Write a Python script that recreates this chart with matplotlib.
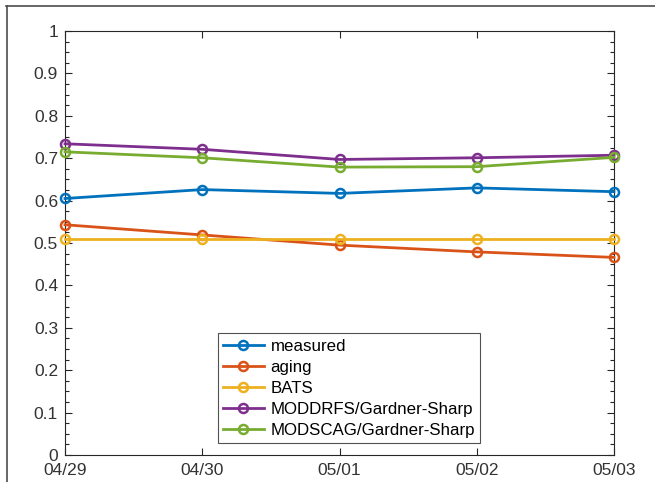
import matplotlib
matplotlib.use("Agg")
import matplotlib.pyplot as plt
from matplotlib.lines import Line2D
from matplotlib.ticker import MultipleLocator

plt.rcParams['font.family'] = ['Liberation Sans', 'DejaVu Sans']

dates = ['04/29', '04/30', '05/01', '05/02', '05/03']
measured = [0.605, 0.626, 0.617, 0.630, 0.621]
aging = [0.543, 0.519, 0.495, 0.479, 0.466]
bats = [0.510, 0.510, 0.510, 0.510, 0.510]
moddrfs = [0.734, 0.721, 0.697, 0.701, 0.707]
modscag = [0.715, 0.701, 0.679, 0.680, 0.702]

series = [
    ('measured', measured, (0, 0.447, 0.741)),
    ('aging', aging, (0.85, 0.325, 0.098)),
    ('BATS', bats, (0.929, 0.694, 0.125)),
    ('MODDRFS/Gardner-Sharp', moddrfs, (0.494, 0.184, 0.556)),
    ('MODSCAG/Gardner-Sharp', modscag, (0.466, 0.674, 0.188)),
]

fig = plt.figure(figsize=(6.55, 4.82), dpi=100)
top_px, bot_px = 31, 455
ax = fig.add_axes([65/655, 1-bot_px/482, (614-65)/655, (bot_px-top_px)/482])

x = list(range(len(dates)))
for name, vals, c in series:
    ax.plot(x, vals, '-o', color=c, lw=2, ms=6.5, mfc='none', mew=1.8,
            label=name, clip_on=False, zorder=3)

ax.set_xlim(0, 4)
ax.set_ylim(0, 1)
ax.set_xticks(x)
ax.set_xticklabels(dates)
ax.set_yticks([i/10 for i in range(11)])
ax.set_yticklabels(['0'] + ['%.1f' % (i/10) for i in range(1, 10)] + ['1'])
ax.yaxis.set_minor_locator(MultipleLocator(0.025))

gray = (0.15, 0.15, 0.15)
for s in ax.spines.values():
    s.set_color(gray)
    s.set_linewidth(0.8)
ax.tick_params(which='both', direction='in', top=True, right=True, colors=gray,
               labelsize=12.5, width=0.8)
ax.tick_params(which='major', length=5)
ax.tick_params(which='minor', length=3)
ax.tick_params(axis='x', which='minor', top=False, bottom=False)
ax.tick_params(axis='x', pad=6)
ax.tick_params(axis='y', pad=5)
for lab in ax.get_xticklabels() + ax.get_yticklabels():
    lab.set_color((0.2, 0.2, 0.2))

leg = ax.legend(loc='lower left', bbox_to_anchor=((218-65)/549, (bot_px-443)/(bot_px-top_px)),
                fontsize=12.2, frameon=True, fancybox=False, borderpad=0.3,
                labelspacing=0.36, handlelength=2.4, handletextpad=0.4,
                borderaxespad=0)
leg.get_frame().set_edgecolor(gray)
leg.get_frame().set_linewidth(0.8)

# outer frame lines (top and left)
fig.add_artist(Line2D([6/655, 1], [1-6/482, 1-6/482], color=(0.3, 0.3, 0.3), lw=1.2,
                      transform=fig.transFigure))
fig.add_artist(Line2D([7/655, 7/655], [0, 1-6/482], color=(0.3, 0.3, 0.3), lw=1.2,
                      transform=fig.transFigure))

fig.savefig('out.png', dpi=100)
